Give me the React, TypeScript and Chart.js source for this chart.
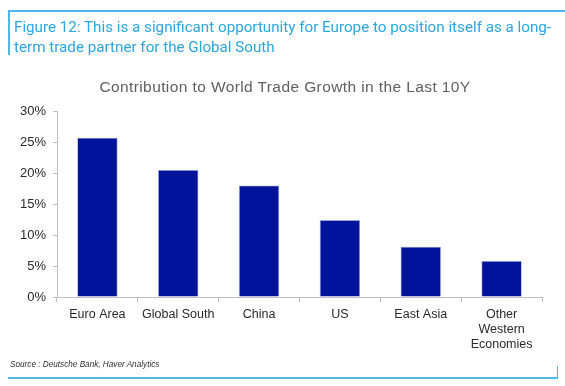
import React, { useEffect, useRef } from "react";
import { Chart, registerables } from "chart.js";

Chart.register(...registerables);

const categories: (string | string[])[] = [
  "Euro Area",
  "Global South",
  "China",
  "US",
  "East Asia",
  ["Other", "Western", "Economies"],
];
const contribution: number[] = [25.7, 20.5, 18.0, 12.4, 8.1, 5.8];
const yTicks: number[] = [0, 5, 10, 15, 20, 25, 30];

const headerLine1 = "Figure 12: This is a significant opportunity for Europe to position itself as a long-";
const headerLine2 = "term trade partner for the Global South";
const chartTitle = "Contribution to World Trade Growth in the Last 10Y";
const sourceText = "Source : Deutsche Bank, Haver Analytics";

const FRAME = "#4db8e8";

export default function App() {
  const ref = useRef<HTMLCanvasElement | null>(null);

  useEffect(() => {
    if (!ref.current) return;
    const chart = new Chart(ref.current, {
      type: "bar",
      data: {
        labels: categories,
        datasets: [
          {
            data: contribution,
            backgroundColor: "#00139a",
            borderColor: "#9aa4dc",
            borderWidth: 0.8,
            barPercentage: 0.5,
            categoryPercentage: 1,
          },
        ],
      },
      options: {
        animation: false,
        responsive: false,
        maintainAspectRatio: false,
        layout: { padding: { top: 111, left: 0, right: 23, bottom: 0 } },
        plugins: {
          legend: { display: false },
          tooltip: { enabled: false },
          title: { display: false },
        },
        scales: {
          x: {
            grid: {
              display: true,
              drawOnChartArea: false,
              drawTicks: true,
              tickLength: 5,
              offset: true,
              color: "#c0c0c0",
            },
            border: { display: true, color: "#c0c0c0", width: 1 },
            ticks: {
              color: "#2a2a2a",
              font: { family: "Liberation Sans, Arial, sans-serif", size: 12.5 },
              padding: 5,
              maxRotation: 0,
              autoSkip: false,
            },
            afterFit: (scale: any) => {
              scale.height = 386 - 297;
            },
          },
          y: {
            min: 0,
            max: 30,
            afterBuildTicks: (scale: any) => {
              scale.ticks = yTicks.map((v) => ({ value: v }));
            },
            grid: {
              display: true,
              drawOnChartArea: false,
              drawTicks: true,
              tickLength: 4,
              color: "#c0c0c0",
            },
            border: { display: true, color: "#c0c0c0", width: 1 },
            ticks: {
              color: "#2a2a2a",
              font: { family: "Liberation Sans, Arial, sans-serif", size: 13 },
              padding: 7,
              callback: (v: any) => v + "%",
            },
            afterFit: (scale: any) => {
              scale.width = 57;
            },
          },
        },
      },
    });
    return () => chart.destroy();
  }, []);

  return (
    <div
      style={{
        position: "absolute",
        left: 0,
        top: 0,
        width: 565,
        height: 386,
        background: "#ffffff",
        overflow: "hidden",
      }}
    >
      <canvas
        ref={ref}
        width={565}
        height={386}
        style={{ position: "absolute", left: 0, top: 0, width: 565, height: 386 }}
      />
      {/* header frame */}
      <div style={{ position: "absolute", left: 8, top: 10, width: 557, height: 1.5, background: FRAME }} />
      <div style={{ position: "absolute", left: 8, top: 10, width: 1.5, height: 45, background: FRAME }} />
      <div
        style={{
          position: "absolute",
          left: 14,
          top: 17,
          fontFamily: "Roboto, sans-serif",
          fontSize: 15.2,
          lineHeight: "20px",
          color: "#2aa6e0",
          whiteSpace: "nowrap",
        }}
      >
        {headerLine1}
        <br />
        {headerLine2}
      </div>
      <div
        style={{
          position: "absolute",
          left: 0,
          width: 570,
          top: 78,
          textAlign: "center",
          fontFamily: "Liberation Sans, Arial, sans-serif",
          fontSize: 15.5,
          letterSpacing: 0.4,
          color: "#606060",
          whiteSpace: "nowrap",
        }}
      >
        {chartTitle}
      </div>
      {/* footer */}
      <div
        style={{
          position: "absolute",
          left: 10,
          top: 360,
          fontFamily: "Liberation Sans, Arial, sans-serif",
          fontSize: 8.2,
          fontStyle: "italic",
          color: "#333333",
          whiteSpace: "nowrap",
        }}
      >
        {sourceText}
      </div>
      <div style={{ position: "absolute", left: 8, top: 377, width: 550, height: 1.5, background: FRAME }} />
      <div style={{ position: "absolute", left: 556.5, top: 366, width: 1.5, height: 12.5, background: FRAME }} />
    </div>
  );
}
